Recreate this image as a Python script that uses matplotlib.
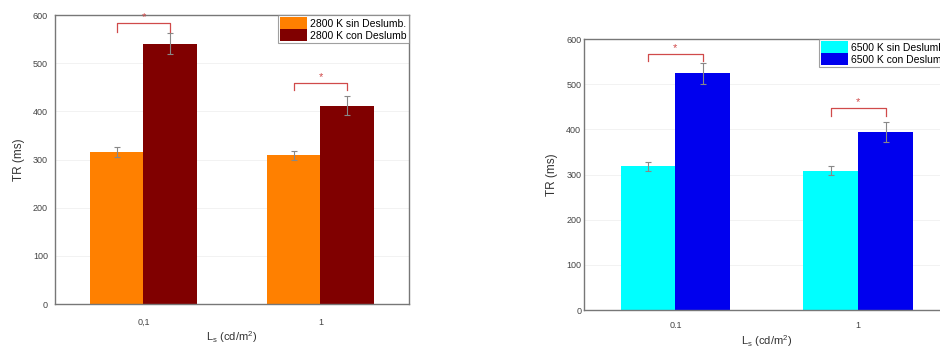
import matplotlib
matplotlib.use("Agg")
import matplotlib.pyplot as plt
import numpy as np

categories_left = ["0,1", "1"]
categories_right = ["0.1", "1"]
left_sin = [316, 309]
left_sin_err = [10, 9]
left_con = [541, 412]
left_con_err = [22, 20]
right_sin = [318, 308]
right_sin_err = [10, 10]
right_con = [524, 395]
right_con_err = [23, 22]
left_labels = ["2800 K sin Deslumb.", "2800 K con Deslumb"]
right_labels = ["6500 K sin Deslumb.", "6500 K con Deslumb"]
left_colors = ["#ff8000", "#800000"]
right_colors = ["#00ffff", "#0000ee"]
# significance brackets: (bracket y, tick bottom y)
left_brackets = [(583, 565), (458, 444)]
right_brackets = [(567, 552), (447, 429)]
yticks = [0, 100, 200, 300, 400, 500, 600]

plt.rcParams['font.family'] = ['Liberation Sans', 'DejaVu Sans']
plt.rcParams['mathtext.fontset'] = 'custom'
plt.rcParams['mathtext.rm'] = 'Liberation Sans'
plt.rcParams['mathtext.it'] = 'Liberation Sans'

fig = plt.figure(figsize=(9.4, 3.51), dpi=100)
ax1 = fig.add_axes([0.0585, 0.1339, 0.3766, 0.823])
ax2 = fig.add_axes([0.6213, 0.1168, 0.389, 0.772])

def draw(ax, cats, sin, sin_err, con, con_err, labels, colors, brackets, ypad, xpad):
    x = np.arange(1, len(cats) + 1)
    w = 0.3
    ax.bar(x - w / 2, sin, w, color=colors[0], edgecolor='none', label=labels[0], zorder=2)
    ax.bar(x + w / 2, con, w, color=colors[1], edgecolor='none', label=labels[1], zorder=2)
    ax.errorbar(x - w / 2, sin, yerr=sin_err, fmt='none', ecolor='#888888', elinewidth=0.8, capsize=2, capthick=0.8, zorder=3)
    ax.errorbar(x + w / 2, con, yerr=con_err, fmt='none', ecolor='#888888', elinewidth=0.8, capsize=2, capthick=0.8, zorder=3)
    for xi, (by, bt) in zip(x, brackets):
        xs = [xi - w / 2, xi - w / 2, xi + w / 2, xi + w / 2]
        ys = [bt, by, by, bt]
        ax.plot(xs, ys, color='#d04a4a', lw=0.9, zorder=4)
        ax.text(xi, by + 2, '*', ha='center', va='bottom', color='#d04a4a', fontsize=8)
    ax.set_xlim(0.5, 2.5)
    ax.set_ylim(0, 600)
    ax.set_xticks(x)
    ax.set_xticklabels(cats)
    ax.set_yticks(yticks)
    ax.tick_params(axis='y', labelsize=6.5, length=0, colors='#444444', pad=ypad)
    ax.tick_params(axis='x', labelsize=6.5, length=0, colors='#444444', pad=xpad)
    ax.yaxis.grid(True, color='#f0f0f0', lw=0.6, zorder=0)
    ax.set_axisbelow(True)
    for s in ax.spines.values():
        s.set_color('#777777')
        s.set_linewidth(1.0)
    ax.set_ylabel('TR (ms)', fontsize=8.5, color='#333333', labelpad=6)
    ax.set_xlabel('L$_\\mathrm{s}$ (cd/m$^\\mathrm{2}$)', fontsize=8, color='#333333', labelpad=2)
    leg = ax.legend(loc='upper right', fontsize=7.5, borderaxespad=0, frameon=True,
                    fancybox=False, handlelength=2.6, handleheight=1.4, handletextpad=0.3,
                    borderpad=0.2, labelspacing=0.0)
    leg.get_frame().set_edgecolor('#888888')
    leg.get_frame().set_linewidth(0.8)

draw(ax1, categories_left, left_sin, left_sin_err, left_con, left_con_err, left_labels, left_colors, left_brackets, 5, 10)
draw(ax2, categories_right, right_sin, right_sin_err, right_con, right_con_err, right_labels, right_colors, right_brackets, 2, 8)

fig.savefig('out.png', dpi=100)
